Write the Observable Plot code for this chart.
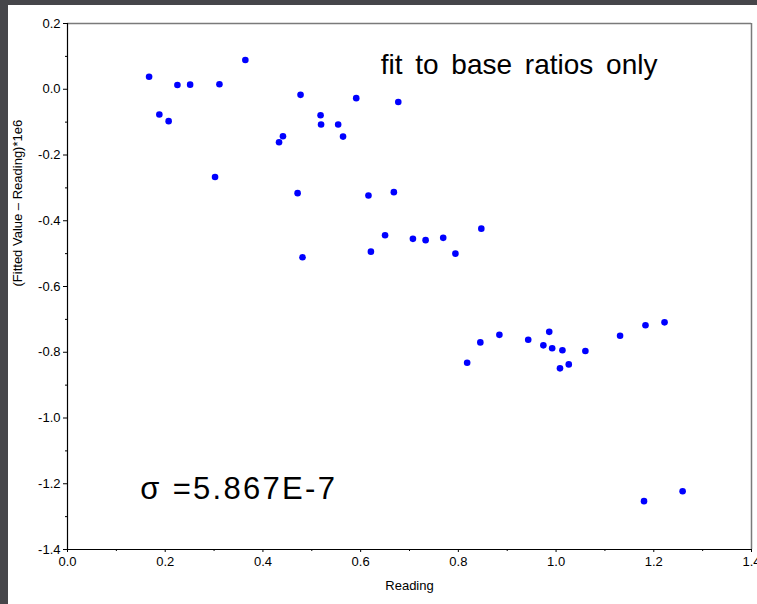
<!DOCTYPE html>
<html>
<head>
<meta charset="utf-8">
<script src="https://cdn.jsdelivr.net/npm/d3@7"></script>
<script src="https://cdn.jsdelivr.net/npm/@observablehq/plot@0.6"></script>
<style>
  html, body { margin: 0; padding: 0; background: #46464a; width: 757px; height: 604px; overflow: hidden; }
  #chart { position: absolute; left: 8px; top: 5px; }
</style>
</head>
<body>
<div id="chart"></div>
<script>
// Data
const readings = [
  0.167, 0.188, 0.207, 0.225, 0.251, 0.302, 0.311, 0.364, 0.433, 0.441, 0.471,
  0.477, 0.481, 0.518, 0.519, 0.554, 0.564, 0.591, 0.616, 0.621, 0.650, 0.668,
  0.677, 0.707, 0.733, 0.769, 0.794, 0.847, 0.818, 0.845, 0.884, 0.943, 0.974,
  0.986, 0.992, 1.013, 1.008, 1.026, 1.060, 1.131, 1.183, 1.222, 1.259, 1.180
];
const residuals = [
  0.038, -0.077, -0.097, 0.013, 0.014, -0.267, 0.015, 0.089, -0.161, -0.143, -0.316,
  -0.017, -0.511, -0.079, -0.107, -0.107, -0.144, -0.027, -0.323, -0.494, -0.444, -0.313,
  -0.039, -0.455, -0.459, -0.452, -0.500, -0.424, -0.832, -0.770, -0.747, -0.762, -0.779,
  -0.738, -0.788, -0.794, -0.849, -0.837, -0.796, -0.750, -0.718, -0.709, -1.223, -1.253
];
const xTicks = [0.0, 0.2, 0.4, 0.6, 0.8, 1.0, 1.2, 1.4];
const xMinorTicks = [0.1, 0.3, 0.5, 0.7, 0.9, 1.1, 1.3];
const yTicks = [0.2, 0.0, -0.2, -0.4, -0.6, -0.8, -1.0, -1.2, -1.4];
const yMinorTicks = [0.1, -0.1, -0.3, -0.5, -0.7, -0.9, -1.1, -1.3];
const titleText = "fit to base ratios only";
const sigmaText = "σ =5.867E-7";
const xLabel = "Reading";
const yLabel = "(Fitted Value – Reading)*1e6";

const points = readings.map((r, i) => ({reading: r, residual: residuals[i]}));

const chart = Plot.plot({
  width: 749,
  height: 599,
  marginLeft: 59,
  marginTop: 18,
  marginRight: 6,
  marginBottom: 55,
  style: {fontFamily: "Liberation Sans, Arial, sans-serif", fontSize: "13px", background: "white", color: "black"},
  x: {domain: [0, 1.4]},
  y: {domain: [-1.4, 0.2]},
  marks: [
    Plot.ruleY([0.2], {stroke: "#7a7a7a", strokeWidth: 1.5}),
    Plot.ruleX([1.4], {stroke: "#7a7a7a", strokeWidth: 1.5}),
    Plot.ruleX([0], {stroke: "black", strokeWidth: 1.2}),
    Plot.ruleY([-1.4], {stroke: "black", strokeWidth: 1.2}),
    Plot.axisX({ticks: xTicks, tickSize: 3, tickPadding: 4, tickFormat: d => d.toFixed(1), fontSize: 13, label: null}),
    Plot.axisX({ticks: xMinorTicks, tickSize: 2, tickFormat: () => "", label: null}),
    Plot.axisY({ticks: yTicks, tickSize: 4, tickPadding: 3, tickFormat: d => d.toFixed(1), fontSize: 13, label: null}),
    Plot.axisY({ticks: yMinorTicks, tickSize: 2, tickFormat: () => "", label: null}),
    Plot.dot(points, {x: "reading", y: "residual", r: 3.3, fill: "#0000ff", stroke: "none"}),
    Plot.text([titleText], {x: 0.641, y: 0.074, text: d => d, textAnchor: "start", lineAnchor: "middle", fontSize: 28, fill: "black", className: "title-note"}),
    Plot.text([sigmaText], {x: 0.149, y: -1.217, text: d => d, textAnchor: "start", lineAnchor: "middle", fontSize: 31, fill: "black", className: "sigma-note"}),
    Plot.text([xLabel], {frameAnchor: "bottom", text: d => d, dy: 36, lineAnchor: "middle", fontSize: 13, fill: "black"}),
    Plot.text([yLabel], {frameAnchor: "left", text: d => d, dx: -50, rotate: -90, lineAnchor: "middle", fontSize: 13, fill: "black"})
  ]
});
d3.select(chart).selectAll(".title-note text").style("word-spacing", "5px");
d3.select(chart).selectAll(".sigma-note text").style("letter-spacing", "2.3px");
document.getElementById("chart").appendChild(chart);
</script>
</body>
</html>
